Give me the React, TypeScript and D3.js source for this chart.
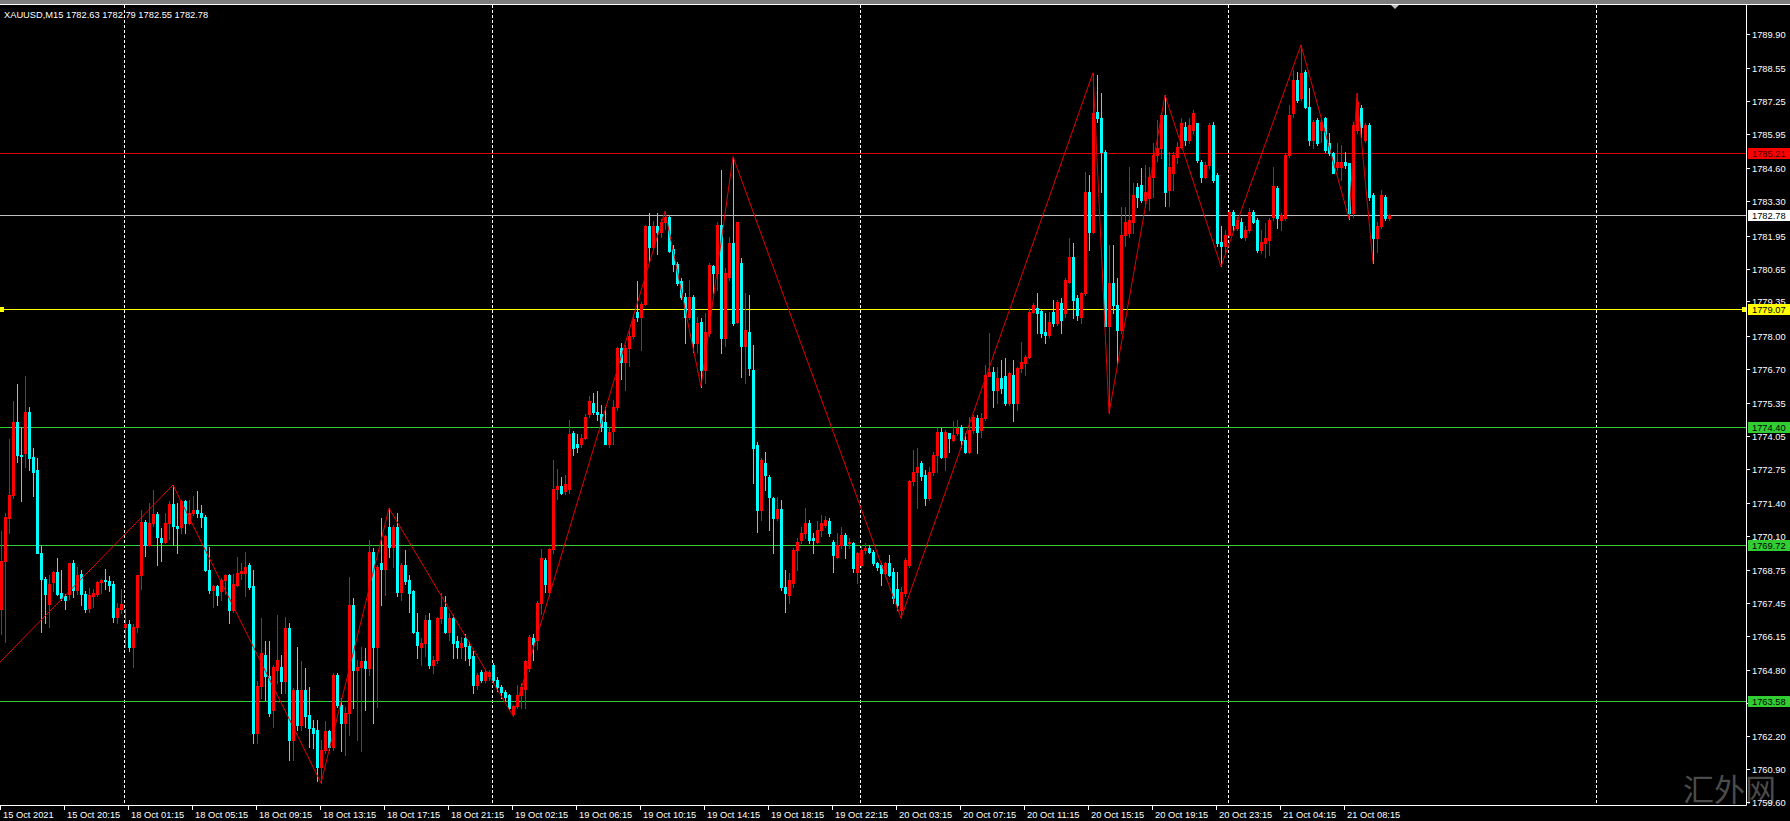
import React from "react";
import * as d3 from "d3";

type Bar = [number, number, number, number]; // open, high, low, close

// ---------- DATA (XAUUSD M15) ----------
const candles15Oct: Bar[] = [
  [1767.2, 1770.3, 1766.2, 1769.1], [1769.1, 1771.0, 1765.9, 1770.85], [1770.8, 1773.9, 1770.2, 1771.7], [1771.7, 1775.4, 1771.6, 1774.6],
  [1774.6, 1776.1, 1773.0, 1773.3], [1773.3, 1774.4, 1771.45, 1773.25], [1773.35, 1776.4, 1772.8, 1775.0], [1775.0, 1775.2, 1772.7, 1773.15],
  [1773.2, 1773.55, 1771.65, 1772.6], [1772.7, 1773.15, 1769.4, 1769.4], [1769.4, 1769.7, 1766.3, 1768.4], [1768.4, 1768.45, 1766.65, 1767.8],
  [1767.4, 1768.55, 1766.5, 1768.2], [1768.25, 1768.7, 1767.9, 1768.65], [1768.65, 1769.2, 1767.75, 1767.8], [1767.85, 1768.75, 1767.55, 1767.65],
  [1767.7, 1767.8, 1767.2, 1767.55], [1767.8, 1769.0, 1767.6, 1769.0], [1769.0, 1769.15, 1767.67, 1767.95], [1767.95, 1768.85, 1767.8, 1768.55],
  [1768.6, 1768.75, 1767.35, 1767.8], [1767.8, 1767.9, 1767.1, 1767.2], [1767.25, 1768.05, 1767.1, 1767.75], [1767.7, 1768.0, 1767.3, 1767.85],
  [1767.8, 1768.3, 1767.7, 1768.25], [1768.25, 1768.4, 1767.85, 1768.35], [1768.35, 1768.8, 1768.0, 1768.3], [1768.3, 1768.5, 1767.9, 1768.15],
  [1768.2, 1768.3, 1766.7, 1766.9], [1766.9, 1767.45, 1766.65, 1767.25], [1767.2, 1768.0, 1767.05, 1767.4],
];

const candles18Oct: Bar[] = [
  [1766.5, 1767.2, 1765.7, 1766.6], [1766.6, 1766.75, 1765.55, 1765.7], [1765.7, 1766.6, 1764.9, 1766.5], [1766.5, 1768.55, 1766.3, 1768.55],
  [1768.55, 1771.1, 1768.0, 1770.65], [1770.65, 1770.7, 1769.3, 1769.75], [1769.75, 1771.4, 1769.7, 1770.6], [1770.6, 1771.9, 1770.5, 1770.95],
  [1770.95, 1771.05, 1768.95, 1770.05], [1770.0, 1770.4, 1769.1, 1769.85], [1769.85, 1771.0, 1769.8, 1770.6], [1770.6, 1771.45, 1769.95, 1771.35],
  [1771.35, 1772.1, 1769.75, 1770.5], [1770.5, 1771.4, 1769.4, 1770.4], [1770.45, 1771.5, 1770.2, 1771.45], [1771.45, 1771.5, 1770.2, 1770.6],
  [1770.6, 1771.5, 1770.55, 1771.0], [1771.0, 1771.65, 1770.9, 1771.1], [1771.1, 1771.85, 1770.85, 1771.0], [1771.0, 1771.3, 1770.45, 1770.85],
  [1770.85, 1770.9, 1768.7, 1768.75], [1768.75, 1769.67, 1767.83, 1767.95], [1767.95, 1768.15, 1767.3, 1768.1], [1768.1, 1768.15, 1767.37, 1767.75],
  [1767.9, 1768.42, 1767.56, 1768.35], [1768.35, 1768.6, 1767.8, 1768.55], [1768.55, 1768.6, 1766.65, 1767.15], [1767.15, 1768.6, 1767.1, 1768.2],
  [1768.15, 1769.27, 1768.1, 1768.62], [1768.62, 1769.0, 1768.4, 1768.7], [1768.62, 1769.47, 1767.7, 1768.88], [1768.95, 1769.0, 1768.0, 1768.09],
  [1768.1, 1768.75, 1761.9, 1762.3], [1762.3, 1764.34, 1761.9, 1764.17], [1764.17, 1766.84, 1763.68, 1765.46], [1765.4, 1765.92, 1763.6, 1764.54],
  [1764.54, 1765.92, 1762.96, 1763.09], [1763.22, 1765.0, 1762.56, 1764.93], [1764.8, 1766.97, 1764.27, 1765.2], [1764.9, 1765.4, 1763.88, 1764.34],
  [1764.34, 1766.9, 1763.88, 1766.44], [1766.44, 1766.64, 1761.25, 1762.04], [1762.04, 1764.08, 1761.25, 1764.01], [1764.01, 1765.72, 1762.43, 1762.63],
  [1762.63, 1765.13, 1762.43, 1764.01], [1764.01, 1764.87, 1762.56, 1762.96], [1763.0, 1764.14, 1761.77, 1762.5], [1762.5, 1762.83, 1761.7, 1762.3],
  [1762.43, 1762.83, 1760.4, 1760.98], [1760.98, 1762.04, 1760.33, 1761.64], [1761.64, 1762.76, 1761.5, 1762.37], [1762.37, 1762.43, 1761.64, 1761.77],
  [1761.77, 1764.67, 1761.64, 1764.6], [1764.6, 1764.67, 1763.35, 1763.42], [1763.42, 1763.68, 1761.6, 1762.69], [1762.69, 1763.35, 1761.44, 1763.09],
  [1763.09, 1768.48, 1762.23, 1767.37], [1767.37, 1767.63, 1763.29, 1764.8], [1764.8, 1765.2, 1762.04, 1764.93], [1764.93, 1765.72, 1761.58, 1765.13],
  [1765.13, 1765.66, 1763.22, 1764.87], [1764.87, 1769.93, 1764.6, 1769.47], [1769.47, 1769.6, 1762.7, 1765.72], [1765.72, 1768.95, 1763.35, 1768.88],
  [1769.0, 1770.79, 1767.37, 1768.8], [1768.8, 1770.13, 1767.76, 1770.07], [1770.46, 1771.18, 1769.27, 1769.67], [1769.67, 1770.53, 1768.88, 1770.46],
  [1770.46, 1770.99, 1767.7, 1767.89], [1767.89, 1769.01, 1767.56, 1768.95], [1768.95, 1769.54, 1768.2, 1768.29], [1768.35, 1768.55, 1767.1, 1767.83],
  [1767.93, 1767.96, 1766.25, 1766.31], [1766.31, 1767.04, 1765.26, 1765.79], [1765.72, 1766.05, 1764.99, 1765.86], [1765.86, 1766.97, 1765.33, 1766.77],
  [1766.77, 1767.04, 1764.86, 1764.99], [1764.99, 1765.33, 1764.67, 1765.2], [1765.2, 1766.9, 1765.07, 1766.84], [1766.84, 1767.83, 1766.65, 1767.3],
  [1767.3, 1767.7, 1766.25, 1766.31], [1766.31, 1767.04, 1765.98, 1766.84], [1766.84, 1766.97, 1765.26, 1765.85], [1765.92, 1766.12, 1765.26, 1765.72],
  [1765.72, 1766.1, 1765.26, 1765.85], [1766.05, 1766.2, 1765.2, 1765.76], [1765.76, 1765.9, 1765.0, 1765.28], [1765.35, 1765.55, 1763.9, 1764.2],
  [1764.2, 1764.67, 1764.06, 1764.6], [1764.7, 1764.8, 1764.33, 1764.4], [1764.4, 1764.8, 1764.3, 1764.7], [1764.55, 1764.8, 1764.4, 1764.73],
];

const candles19Oct: Bar[] = [
  [1764.98, 1765.08, 1764.33, 1764.4], [1764.4, 1764.5, 1763.95, 1764.13], [1764.13, 1764.2, 1763.7, 1763.93], [1763.93, 1764.0, 1763.6, 1763.72],
  [1763.8, 1763.85, 1763.25, 1763.3], [1763.04, 1763.4, 1762.98, 1763.38], [1763.38, 1764.2, 1763.3, 1763.8], [1763.8, 1764.27, 1763.3, 1764.13],
  [1764.06, 1765.2, 1763.3, 1765.15], [1764.88, 1766.17, 1764.74, 1766.1], [1766.05, 1766.23, 1765.2, 1765.83], [1765.96, 1767.52, 1765.62, 1767.45],
  [1767.45, 1769.56, 1767.0, 1769.22], [1769.15, 1769.22, 1767.86, 1768.2], [1767.86, 1769.63, 1767.73, 1769.56], [1769.56, 1773.09, 1769.4, 1771.93],
  [1771.93, 1772.75, 1771.53, 1772.07], [1772.07, 1772.41, 1771.73, 1771.8], [1771.87, 1772.48, 1771.73, 1772.14], [1771.93, 1774.65, 1771.8, 1774.1],
  [1774.17, 1774.23, 1773.29, 1773.56], [1773.7, 1774.1, 1773.4, 1773.6], [1773.7, 1774.1, 1773.6, 1773.96], [1773.96, 1774.92, 1773.9, 1774.78],
  [1774.92, 1775.6, 1774.78, 1775.4], [1775.33, 1775.73, 1774.92, 1774.98], [1774.98, 1775.8, 1774.65, 1774.9], [1774.92, 1775.25, 1774.24, 1774.38],
  [1774.58, 1775.19, 1773.7, 1773.7], [1773.7, 1774.4, 1773.6, 1774.2], [1774.24, 1775.46, 1773.7, 1775.19], [1775.19, 1777.56, 1775.05, 1777.5],
  [1777.5, 1777.7, 1776.27, 1776.95], [1776.95, 1777.63, 1775.87, 1777.52], [1777.5, 1778.17, 1776.8, 1777.97], [1777.97, 1778.79, 1777.9, 1778.65],
  [1778.92, 1780.14, 1778.58, 1778.72], [1778.72, 1779.33, 1777.43, 1779.26], [1779.26, 1782.38, 1779.2, 1782.31], [1782.31, 1782.86, 1780.89, 1781.5],
  [1781.5, 1782.52, 1781.4, 1782.31], [1782.31, 1782.86, 1781.23, 1782.11], [1782.11, 1782.6, 1781.9, 1782.5], [1782.5, 1782.91, 1782.2, 1782.7],
  [1782.7, 1782.75, 1781.3, 1781.36], [1781.43, 1781.57, 1780.55, 1780.82], [1780.82, 1780.89, 1780.0, 1780.07], [1780.14, 1780.28, 1779.46, 1779.53],
  [1779.53, 1779.67, 1777.7, 1778.72], [1778.72, 1780.21, 1778.65, 1779.53], [1779.53, 1779.6, 1777.37, 1777.7], [1777.7, 1778.75, 1777.37, 1778.49],
  [1778.55, 1778.68, 1775.99, 1776.64], [1776.64, 1778.88, 1776.12, 1778.16], [1778.09, 1780.86, 1778.0, 1780.79], [1780.75, 1780.79, 1779.67, 1780.46],
  [1780.46, 1782.5, 1779.8, 1782.37], [1782.37, 1784.54, 1777.3, 1777.9], [1777.9, 1780.66, 1777.57, 1780.46], [1780.33, 1781.91, 1780.2, 1781.65],
  [1781.65, 1785.07, 1778.42, 1778.49], [1778.55, 1782.5, 1778.49, 1782.5], [1780.86, 1781.05, 1776.38, 1777.57], [1777.57, 1779.67, 1776.12, 1778.22],
  [1778.16, 1779.6, 1776.45, 1776.71], [1776.64, 1777.63, 1772.17, 1773.55], [1773.68, 1773.8, 1770.26, 1771.12], [1771.12, 1773.16, 1770.72, 1773.09],
  [1772.96, 1773.42, 1771.91, 1772.5], [1772.43, 1772.5, 1770.33, 1771.64], [1771.58, 1771.64, 1769.4, 1770.79], [1770.79, 1771.64, 1770.72, 1771.14],
  [1771.14, 1771.51, 1767.96, 1768.09], [1768.09, 1768.75, 1767.1, 1767.83], [1767.76, 1768.62, 1767.43, 1768.35], [1768.22, 1769.6, 1768.09, 1769.53],
  [1769.53, 1770.0, 1768.75, 1769.86], [1769.93, 1770.46, 1769.8, 1770.2], [1770.2, 1771.18, 1770.0, 1770.59], [1770.59, 1770.72, 1769.8, 1769.93],
  [1770.0, 1770.2, 1769.4, 1769.93], [1769.86, 1770.66, 1769.8, 1770.33], [1770.33, 1770.92, 1770.07, 1770.59], [1770.53, 1770.86, 1770.46, 1770.72],
  [1770.66, 1770.79, 1770.07, 1770.2], [1769.86, 1769.93, 1768.68, 1769.34], [1769.27, 1770.2, 1769.2, 1769.73], [1769.73, 1770.46, 1769.6, 1770.13],
  [1770.13, 1770.2, 1769.2, 1769.73], [1769.8, 1770.0, 1769.6, 1769.86], [1769.8, 1769.86, 1768.68, 1768.82], [1768.68, 1769.47, 1768.22, 1769.4],
];

const candles20Oct: Bar[] = [
  [1768.95, 1769.73, 1768.88, 1769.53], [1769.53, 1769.8, 1769.4, 1769.6], [1769.6, 1769.73, 1769.4, 1769.47], [1769.47, 1769.53, 1768.95, 1769.0],
  [1769.0, 1769.07, 1768.75, 1768.88], [1768.95, 1769.0, 1768.16, 1768.62], [1768.62, 1769.07, 1768.49, 1769.0], [1769.0, 1769.33, 1768.49, 1768.55],
  [1768.68, 1768.81, 1767.43, 1767.63], [1768.0, 1768.68, 1767.17, 1767.37], [1767.17, 1768.09, 1766.84, 1767.89], [1767.83, 1769.2, 1767.7, 1769.14],
  [1768.95, 1772.3, 1768.88, 1772.24], [1772.24, 1773.5, 1772.1, 1772.63], [1772.63, 1773.55, 1771.18, 1772.83], [1772.96, 1773.03, 1772.3, 1772.44],
  [1772.5, 1772.7, 1771.3, 1771.6], [1771.6, 1772.8, 1771.5, 1772.6], [1772.6, 1773.4, 1772.5, 1773.3], [1773.29, 1774.34, 1772.63, 1774.21],
  [1774.21, 1774.34, 1773.16, 1773.22], [1773.22, 1774.28, 1772.7, 1774.21], [1774.15, 1774.15, 1773.42, 1773.95], [1773.88, 1774.61, 1773.82, 1774.08],
  [1774.15, 1774.67, 1774.08, 1774.34], [1774.41, 1774.48, 1773.62, 1773.88], [1773.88, 1774.15, 1773.36, 1773.42], [1773.42, 1774.8, 1773.36, 1774.28],
  [1774.28, 1774.87, 1774.15, 1774.8], [1774.74, 1774.87, 1773.36, 1774.21], [1774.28, 1774.93, 1774.01, 1774.74], [1774.74, 1776.84, 1774.67, 1776.45],
  [1776.39, 1778.09, 1776.39, 1776.58], [1776.58, 1776.78, 1775.2, 1775.86], [1775.86, 1776.78, 1775.33, 1776.32], [1776.32, 1777.04, 1775.73, 1775.92],
  [1776.39, 1777.11, 1775.26, 1775.33], [1775.33, 1776.58, 1775.26, 1776.52], [1776.45, 1777.04, 1774.61, 1775.33], [1775.33, 1776.78, 1775.07, 1776.71],
  [1776.71, 1777.76, 1776.58, 1776.97], [1776.91, 1777.24, 1776.45, 1777.17], [1777.17, 1779.08, 1777.11, 1778.95], [1778.95, 1779.28, 1778.88, 1779.21],
  [1779.08, 1779.67, 1778.09, 1778.88], [1778.99, 1779.02, 1777.96, 1778.09], [1778.16, 1778.88, 1777.7, 1778.03], [1778.03, 1778.95, 1777.96, 1778.55],
  [1778.95, 1779.41, 1778.36, 1778.49], [1778.49, 1779.41, 1778.42, 1779.34], [1779.28, 1779.48, 1778.09, 1778.62], [1778.88, 1780.27, 1778.75, 1780.2],
  [1780.13, 1781.84, 1780.07, 1781.12], [1781.12, 1781.65, 1778.69, 1779.41], [1779.48, 1779.61, 1778.62, 1778.82], [1778.75, 1779.74, 1778.49, 1779.67],
  [1779.67, 1784.48, 1779.61, 1783.69], [1783.69, 1784.35, 1781.38, 1782.11], [1782.11, 1788.38, 1782.04, 1786.78], [1786.84, 1788.3, 1786.45, 1786.58],
  [1786.58, 1787.57, 1783.69, 1785.26], [1785.26, 1785.33, 1778.36, 1778.36], [1778.36, 1781.58, 1774.93, 1780.07], [1780.07, 1781.58, 1778.9, 1779.2],
  [1779.2, 1780.27, 1776.91, 1778.23], [1778.23, 1783.09, 1778.09, 1781.98], [1781.98, 1783.09, 1781.52, 1782.5], [1782.04, 1784.67, 1781.91, 1782.57],
  [1782.5, 1784.02, 1782.04, 1783.56], [1783.88, 1784.02, 1783.09, 1783.49], [1783.95, 1784.61, 1783.29, 1783.36], [1783.36, 1784.74, 1783.09, 1783.69],
  [1783.42, 1784.67, 1782.96, 1784.28], [1784.28, 1785.6, 1783.49, 1785.13], [1785.13, 1786.52, 1784.9, 1785.4], [1785.4, 1786.78, 1785.0, 1786.71],
  [1786.71, 1787.5, 1783.1, 1783.69], [1783.75, 1785.27, 1783.1, 1784.67], [1784.41, 1785.27, 1783.75, 1785.13], [1785.07, 1785.66, 1784.81, 1785.46],
  [1785.46, 1786.58, 1785.4, 1786.39], [1786.25, 1786.45, 1785.53, 1785.73], [1785.73, 1786.58, 1785.6, 1786.32], [1786.12, 1786.91, 1785.99, 1786.78],
  [1786.39, 1786.39, 1784.87, 1784.94], [1784.87, 1784.94, 1784.08, 1784.28], [1784.28, 1784.87, 1784.21, 1784.74], [1784.74, 1786.4, 1784.6, 1786.3],
  [1786.3, 1786.45, 1784.08, 1784.15], [1784.35, 1784.41, 1781.52, 1781.65], [1781.71, 1782.31, 1780.73, 1781.52], [1781.52, 1782.17, 1781.32, 1781.98],
];

const candles21Oct: Bar[] = [
  [1781.98, 1782.96, 1781.91, 1782.9], [1782.9, 1782.96, 1782.17, 1782.37], [1782.24, 1782.7, 1782.17, 1782.57], [1782.5, 1782.63, 1781.85, 1781.91],
  [1781.91, 1782.31, 1781.78, 1782.17], [1782.17, 1783.03, 1782.11, 1782.9], [1782.9, 1782.96, 1782.44, 1782.5], [1782.57, 1782.63, 1781.32, 1781.38],
  [1781.38, 1782.17, 1781.25, 1781.71], [1781.65, 1782.44, 1781.12, 1781.85], [1781.78, 1782.63, 1781.19, 1782.57], [1782.7, 1784.67, 1782.57, 1783.89],
  [1783.82, 1783.89, 1782.24, 1782.63], [1782.57, 1782.83, 1782.17, 1782.77], [1782.63, 1785.2, 1782.57, 1785.13], [1785.13, 1787.11, 1785.07, 1786.71],
  [1786.78, 1788.49, 1786.65, 1788.1], [1788.1, 1788.43, 1787.24, 1787.31], [1787.37, 1789.48, 1787.31, 1788.36], [1788.43, 1788.49, 1786.98, 1787.04],
  [1787.04, 1787.77, 1785.53, 1785.73], [1785.73, 1786.52, 1785.4, 1786.45], [1786.52, 1786.58, 1785.53, 1785.6], [1786.12, 1786.52, 1785.66, 1786.45],
  [1786.58, 1786.65, 1785.27, 1785.33], [1785.6, 1785.99, 1785.13, 1785.2], [1785.2, 1785.27, 1784.41, 1784.41], [1784.67, 1785.6, 1784.54, 1784.87],
  [1784.67, 1785.53, 1784.15, 1784.87], [1784.87, 1785.27, 1784.61, 1784.74], [1784.81, 1784.81, 1782.62, 1782.83], [1782.83, 1786.45, 1782.7, 1786.32],
  [1786.12, 1787.57, 1785.99, 1787.24], [1786.98, 1787.11, 1785.86, 1786.25], [1785.73, 1786.39, 1785.66, 1786.32], [1786.32, 1786.39, 1783.36, 1783.49],
  [1783.56, 1783.62, 1780.86, 1781.85], [1781.85, 1782.5, 1781.32, 1782.31], [1782.31, 1783.75, 1782.24, 1783.56], [1783.49, 1783.56, 1782.57, 1782.63],
  [1782.63, 1782.79, 1782.55, 1782.78],
];

const symbolName = "XAUUSD,M15";

const timeLabels = [
  "15 Oct 2021", "15 Oct 20:15", "18 Oct 01:15", "18 Oct 05:15", "18 Oct 09:15", "18 Oct 13:15",
  "18 Oct 17:15", "18 Oct 21:15", "19 Oct 02:15", "19 Oct 06:15", "19 Oct 10:15", "19 Oct 14:15",
  "19 Oct 18:15", "19 Oct 22:15", "20 Oct 03:15", "20 Oct 07:15", "20 Oct 11:15", "20 Oct 15:15",
  "20 Oct 19:15", "20 Oct 23:15", "21 Oct 04:15", "21 Oct 08:15",
];
const barsPerTimeLabel = 16;

const dayStartBars = [31, 123, 215, 307, 399];

const priceTicks = [
  1789.9, 1788.55, 1787.25, 1785.95, 1784.6, 1783.3, 1781.95, 1780.65, 1779.35, 1778.0, 1776.7, 1775.35,
  1774.05, 1772.75, 1771.4, 1770.1, 1768.75, 1767.45, 1766.15, 1764.8, 1763.5, 1762.2, 1760.9, 1759.6,
];

const levelPrices = [1785.21, 1779.07, 1774.4, 1769.72, 1763.58];
const levelKinds = ["red", "yellow", "green", "green", "green"];

const zigzagBars = [-12, 43, 80, 97, 128, 166, 175, 183, 225, 273, 277, 291, 305, 325, 337, 339, 343];
const zigzagPrices = [1763.2, 1772.1, 1760.33, 1771.18, 1762.98, 1782.91, 1775.99, 1785.07, 1766.84, 1788.38, 1774.93, 1787.5, 1780.73, 1789.48, 1782.62, 1787.57, 1780.86];

const watermark = "汇外网";

// ---------- LAYOUT / STYLE ----------
const W = 1790;
const H = 821;
const PLOT_RIGHT = 1746;
const PLOT_BOTTOM = 805;
const FONT = "'Liberation Sans', Arial, sans-serif";
const FS = 9.3;
const BULL = "#ff0000";
const BEAR = "#00ffff";
const levelStyle: Record<string, { line: string; bg: string; fg: string }> = {
  red: { line: "#d40000", bg: "#ff0000", fg: "#3a0000" },
  yellow: { line: "#ffff00", bg: "#ffff00", fg: "#000000" },
  green: { line: "#32cd32", bg: "#32cd32", fg: "#000000" },
};

export default function App() {
  const candles: Bar[] = [...candles15Oct, ...candles18Oct, ...candles19Oct, ...candles20Oct, ...candles21Oct];
  const last = candles[candles.length - 1];
  const bid = last[3];

  const x = d3.scaleLinear().domain([0, 100]).range([1, 401]); // 4 px per bar
  const y = d3.scaleLinear().domain([1759.6, 1789.9]).range([801.5, 34.3]);
  const py = (p: number) => Math.round(y(p));

  const zz = d3
    .line<number>()
    .x((_, i) => x(zigzagBars[i]))
    .y((_, i) => y(zigzagPrices[i]))(zigzagPrices.map((_, i) => i));

  const header = `${symbolName}  ${last.map((v) => v.toFixed(2)).join(" ")}`;

  const levelRows = levelPrices.map((p, i) => ({ p, st: levelStyle[levelKinds[i]] }));
  const allLevels = [
    ...levelRows.map((r) => ({ ...r, isBid: false })),
    { p: bid, st: { line: "#c0c0c0", bg: "#ffffff", fg: "#000000" }, isBid: true },
  ];

  return (
    <svg
      width={W}
      height={H}
      viewBox={`0 0 ${W} ${H}`}
      style={{ position: "absolute", left: 0, top: 0, display: "block", background: "#000" }}
      fontFamily={FONT}
    >
      <defs>
        <clipPath id="plotClip">
          <rect x={0} y={5} width={PLOT_RIGHT} height={PLOT_BOTTOM - 5} />
        </clipPath>
      </defs>
      <rect x={0} y={0} width={W} height={H} fill="#000" />
      <rect x={0} y={0} width={W} height={4} fill="#7d7d7d" />

      {/* day grid */}
      {dayStartBars.map((b) => (
        <line
          key={"g" + b}
          x1={Math.round(x(b)) - 0.5}
          x2={Math.round(x(b)) - 0.5}
          y1={5}
          y2={PLOT_BOTTOM}
          stroke="#ffffff"
          strokeDasharray="3,2"
          strokeWidth={1}
        />
      ))}

      {/* level lines */}
      <g clipPath="url(#plotClip)">
        {allLevels.map((l, i) => (
          <line
            key={"l" + i}
            x1={0}
            x2={PLOT_RIGHT}
            y1={py(l.p) + 0.5}
            y2={py(l.p) + 0.5}
            stroke={l.st.line}
            strokeWidth={1}
          />
        ))}
      </g>
      {/* yellow handles */}
      <rect x={0} y={py(levelPrices[1]) - 2} width={4} height={5} fill="#ffff00" />
      <rect x={PLOT_RIGHT - 4} y={py(levelPrices[1]) - 2} width={4} height={5} fill="#ffff00" />

      {/* candles */}
      <g clipPath="url(#plotClip)">
        {candles.map((c, i) => {
          const [o, h, l, cl] = c;
          const cx = Math.round(x(i));
          const col = cl >= o ? BULL : BEAR;
          const top = py(Math.max(o, cl));
          const bot = py(Math.min(o, cl));
          const yh = py(h);
          const yl = py(l);
          return (
            <g key={i}>
              <rect x={cx} y={yh} width={1} height={Math.max(1, yl - yh + 1)} fill={col} />
              <rect x={cx - 1} y={top} width={3} height={Math.max(1, bot - top + 1)} fill={col} />
            </g>
          );
        })}
        <path d={zz || ""} fill="none" stroke="#e00000" strokeWidth={1} />
      </g>

      {/* header */}
      <text x={4} y={17.5} fill="#ffffff" fontSize={FS}>
        {header}
      </text>

      {/* chart shift marker */}
      <path d="M1391,5 L1399,5 L1395,9 Z" fill="#c0c0c0" />

      {/* borders */}
      <line x1={0} x2={W} y1={4.5} y2={4.5} stroke="#ffffff" />
      <line x1={PLOT_RIGHT + 0.5} x2={PLOT_RIGHT + 0.5} y1={4.5} y2={PLOT_BOTTOM + 0.5} stroke="#ffffff" />
      <line x1={0} x2={PLOT_RIGHT + 0.5} y1={PLOT_BOTTOM + 0.5} y2={PLOT_BOTTOM + 0.5} stroke="#ffffff" />

      {/* watermark */}
      <text
        x={1683}
        y={801}
        fontSize={31}
        fill="#5a5a5a"
        fillOpacity={0.85}
        fontFamily="'Noto Sans CJK SC', sans-serif"
      >
        {watermark}
      </text>

      {/* price axis */}
      {priceTicks.map((p) => (
        <g key={"t" + p}>
          <line x1={PLOT_RIGHT + 1} x2={PLOT_RIGHT + 4} y1={py(p) + 0.5} y2={py(p) + 0.5} stroke="#ffffff" />
          <text x={1752} y={py(p) + 3.5} fill="#ffffff" fontSize={FS}>
            {p.toFixed(2)}
          </text>
        </g>
      ))}

      {/* level labels */}
      {allLevels.map((l, i) => (
        <g key={"lb" + i}>
          <rect x={1748} y={py(l.p) - 5} width={W - 1748} height={11} fill={l.st.bg} />
          <text x={1752} y={py(l.p) + 3.5} fill={l.st.fg} fontSize={FS}>
            {l.p.toFixed(2)}
          </text>
        </g>
      ))}

      {/* time axis */}
      {timeLabels.map((t, k) => {
        const tx = Math.round(x(k * barsPerTimeLabel)) - 0.5;
        return (
          <g key={"x" + k}>
            <line x1={tx} x2={tx} y1={PLOT_BOTTOM} y2={PLOT_BOTTOM + 5} stroke="#ffffff" />
            <text x={tx + 2.5} y={818} fill="#ffffff" fontSize={FS}>
              {t}
            </text>
          </g>
        );
      })}
    </svg>
  );
}
